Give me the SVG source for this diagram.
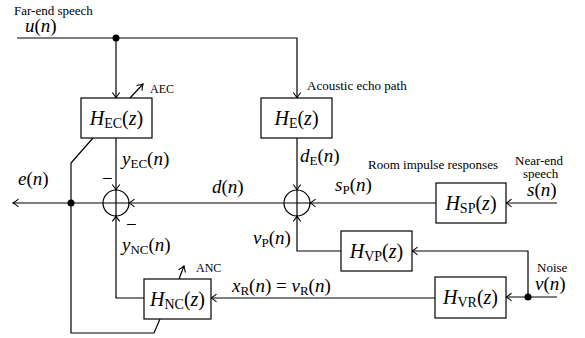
<svg xmlns="http://www.w3.org/2000/svg" width="585" height="338" viewBox="0 0 585 338">
<defs>
<marker id="arr" viewBox="-7 -5 8 10" refX="0" refY="0" markerWidth="8" markerHeight="10" markerUnits="userSpaceOnUse" orient="auto">
<path d="M-5.5,-3.8 Q-2,-0.9 0,0 Q-2,0.9 -5.5,3.8" fill="none" stroke="#000" stroke-width="1.1"/>
</marker>
<style>
.ln{fill:none;stroke:#000;stroke-width:1.2}
.a{marker-end:url(#arr)}
.box{fill:#fff;stroke:#000;stroke-width:1.2}
text{font-family:"Liberation Serif",serif}
.m{font-size:19px;fill:#000}
.bl{font-size:20px;fill:#000}
.i{font-style:italic}
.sub{font-size:13px;font-style:normal}
.bsub{font-size:14px;font-style:normal}
.t{font-size:13px;fill:#000}
.s{font-size:12px;fill:#000}
</style>
</defs>
<rect width="585" height="338" fill="#fff"/>

<g id="connectors">
<path class="ln a" d="M17,38 H297 V98"/>
<path class="ln a" d="M116,38 V98"/>
<path class="ln a" d="M116,138 V190"/>
<path class="ln a" d="M297,138 V190"/>
<path class="ln a" d="M284,203 H129"/>
<path class="ln a" d="M436,203 H310"/>
<path class="ln a" d="M557,203 H506"/>
<path class="ln a" d="M528,297 V251 H412"/>
<path class="ln a" d="M341,251 H297 V216"/>
<path class="ln a" d="M557,297 H506"/>
<path class="ln a" d="M435,298 H211"/>
<path class="ln a" d="M144,298 H116 V216"/>
<path class="ln a" d="M103,203 H13"/>
<path class="ln" d="M93,138 L71,163 V333 H154 L160,319"/>
<path class="ln a" d="M130,98 L143,84"/>
<path class="ln a" d="M179,279 L184,266"/>
<circle cx="116" cy="38" r="3.5" fill="#000"/>
<circle cx="71" cy="203" r="3.5" fill="#000"/>
<circle cx="528" cy="297" r="3.5" fill="#000"/>
</g>

<g id="sum-left">
<circle class="ln" cx="116" cy="203" r="13"/>
<path class="ln" d="M103,203 H129 M116,190 V216"/>
</g>
<g id="sum-right">
<circle class="ln" cx="297" cy="203" r="13"/>
<path class="ln" d="M284,203 H310 M297,190 V216"/>
</g>

<g id="HEC">
<rect class="box" x="81" y="98" width="71" height="40"/>
<text class="bl" x="116.5" y="125" text-anchor="middle"><tspan class="i">H</tspan><tspan class="bsub" dy="3">EC</tspan><tspan dy="-3">(</tspan><tspan class="i">z</tspan>)</text>
</g>
<g id="HE">
<rect class="box" x="261" y="98" width="71" height="40"/>
<text class="bl" x="296.5" y="125" text-anchor="middle"><tspan class="i">H</tspan><tspan class="bsub" dy="3">E</tspan><tspan dy="-3">(</tspan><tspan class="i">z</tspan>)</text>
</g>
<g id="HSP">
<rect class="box" x="436" y="183" width="70" height="40"/>
<text class="bl" x="471" y="210" text-anchor="middle"><tspan class="i">H</tspan><tspan class="bsub" dy="3">SP</tspan><tspan dy="-3">(</tspan><tspan class="i">z</tspan>)</text>
</g>
<g id="HVP">
<rect class="box" x="341" y="231" width="71" height="40"/>
<text class="bl" x="376.5" y="258" text-anchor="middle"><tspan class="i">H</tspan><tspan class="bsub" dy="3">VP</tspan><tspan dy="-3">(</tspan><tspan class="i">z</tspan>)</text>
</g>
<g id="HVR">
<rect class="box" x="435" y="277" width="71" height="41"/>
<text class="bl" x="470.5" y="304" text-anchor="middle"><tspan class="i">H</tspan><tspan class="bsub" dy="3">VR</tspan><tspan dy="-3">(</tspan><tspan class="i">z</tspan>)</text>
</g>
<g id="HNC">
<rect class="box" x="144" y="279" width="67" height="40"/>
<text class="bl" x="177.5" y="306" text-anchor="middle"><tspan class="i">H</tspan><tspan class="bsub" dy="3">NC</tspan><tspan dy="-3">(</tspan><tspan class="i">z</tspan>)</text>
</g>

<g id="labels">
<text class="t" x="14" y="15">Far-end speech</text>
<text class="m" x="25" y="32"><tspan class="i">u</tspan>(<tspan class="i">n</tspan>)</text>
<text class="s" x="150" y="93">AEC</text>
<text class="t" x="307" y="90">Acoustic echo path</text>
<text class="m" x="122" y="165"><tspan class="i">y</tspan><tspan class="sub" dy="3">EC</tspan><tspan dy="-3">(</tspan><tspan class="i">n</tspan>)</text>
<text class="m" x="300" y="162"><tspan class="i">d</tspan><tspan class="sub" dy="3">E</tspan><tspan dy="-3">(</tspan><tspan class="i">n</tspan>)</text>
<text class="t" x="368" y="169">Room impulse responses</text>
<text class="t" x="515" y="165">Near-end</text>
<text class="t" x="523" y="178">speech</text>
<text class="m" x="527" y="196"><tspan class="i">s</tspan>(<tspan class="i">n</tspan>)</text>
<text class="m" x="18" y="185"><tspan class="i">e</tspan>(<tspan class="i">n</tspan>)</text>
<text class="m" x="102" y="185">−</text>
<text class="m" x="126" y="231">−</text>
<text class="m" x="212" y="193"><tspan class="i">d</tspan>(<tspan class="i">n</tspan>)</text>
<text class="m" x="335" y="191"><tspan class="i">s</tspan><tspan class="sub" dy="3">P</tspan><tspan dy="-3">(</tspan><tspan class="i">n</tspan>)</text>
<text class="m" x="253" y="244"><tspan class="i">v</tspan><tspan class="sub" dy="3">P</tspan><tspan dy="-3">(</tspan><tspan class="i">n</tspan>)</text>
<text class="m" x="122" y="251"><tspan class="i">y</tspan><tspan class="sub" dy="3">NC</tspan><tspan dy="-3">(</tspan><tspan class="i">n</tspan>)</text>
<text class="s" x="196" y="272">ANC</text>
<text class="m" x="232" y="292"><tspan class="i">x</tspan><tspan class="sub" dy="3">R</tspan><tspan dy="-3">(</tspan><tspan class="i">n</tspan>) = <tspan class="i">v</tspan><tspan class="sub" dy="3">R</tspan><tspan dy="-3">(</tspan><tspan class="i">n</tspan>)</text>
<text class="t" x="537" y="272">Noise</text>
<text class="m" x="535" y="290"><tspan class="i">v</tspan>(<tspan class="i">n</tspan>)</text>
</g>
</svg>
